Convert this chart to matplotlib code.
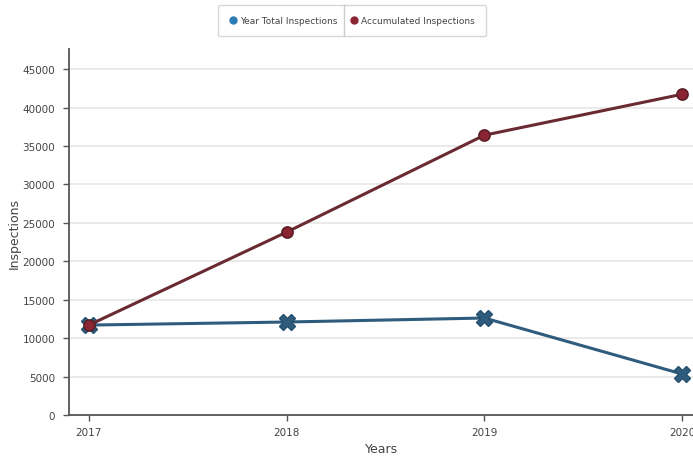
import matplotlib
matplotlib.use("Agg")
import matplotlib.pyplot as plt
from matplotlib.lines import Line2D

# data
years = [2017, 2018, 2019, 2020]
year_total = [11700, 12100, 12620, 5330]
accumulated = [11700, 23800, 36420, 41750]
yticks = list(range(0, 50000, 5000))

blue_line = '#2f5c7c'
blue_dot = '#2b7bb5'
red_line = '#6a2a31'
red_dot = '#8b2534'

plt.rcParams['font.family'] = ['DejaVu Sans']

fig = plt.figure(figsize=(6.93, 4.6), dpi=100)
ax = fig.add_axes([0.0996, 0.0957, 0.902, 0.795])

ax.plot(years, year_total, color=blue_line, lw=2.2, marker='X', markersize=11,
        markerfacecolor=blue_line, markeredgecolor='#24506e', markeredgewidth=1,
        zorder=3, clip_on=False)
ax.plot(years, accumulated, color=red_line, lw=2.2, marker='o', markersize=8,
        markerfacecolor=red_dot, markeredgecolor='#5a1f26', markeredgewidth=1.2,
        zorder=4, clip_on=False)

ax.set_xlim(2016.9, 2020.06)
ax.set_ylim(0, 47600)
ax.set_xticks(years)
ax.set_yticks(yticks)
ax.yaxis.grid(True, color='#e6e6e6', lw=1.2)
ax.set_axisbelow(True)

for s in ['top', 'right']:
    ax.spines[s].set_visible(False)
for s in ['left', 'bottom']:
    ax.spines[s].set_color('#555555')
    ax.spines[s].set_linewidth(1.3)
ax.tick_params(colors='#555555', labelcolor='#444444', labelsize=7.5, length=4, width=1)
ax.tick_params(axis='y', pad=6)
ax.tick_params(axis='x', pad=5)

ax.set_xlabel('Years', fontsize=9, color='#444444', labelpad=3)
ax.set_ylabel('Inspections', fontsize=9, color='#444444', labelpad=1)

handles = [
    Line2D([], [], ls='none', marker='o', markersize=5, color=blue_dot),
    Line2D([], [], ls='none', marker='o', markersize=5, color=red_dot),
]
leg = fig.legend(handles, ['Year Total Inspections', 'Accumulated Inspections'],
                 loc='upper center', bbox_to_anchor=(0.508, 0.993), ncol=2,
                 fontsize=6.5, frameon=True, fancybox=True, handletextpad=0.35,
                 columnspacing=1.5, borderpad=1.25, handlelength=0.8,
                 borderaxespad=0.3)
leg.get_frame().set_edgecolor('#cccccc')
leg.get_frame().set_linewidth(1)
for t in leg.get_texts():
    t.set_color('#444444')

# divider between the two legend cells, placed from the drawn legend
fig.canvas.draw()
inv = fig.transFigure.inverted()
box = leg.get_frame().get_window_extent()
t0 = leg.get_texts()[0].get_window_extent()
t1 = leg.get_texts()[1].get_window_extent()
xmid = (t0.x1 + t1.x0 - 10) / 2
(x0, y0) = inv.transform((xmid, box.y0))
(_, y1) = inv.transform((xmid, box.y1))
fig.add_artist(Line2D([x0, x0], [y0, y1], color='#cccccc', lw=1,
                      transform=fig.transFigure, zorder=10))

fig.savefig('out.png', dpi=100)
